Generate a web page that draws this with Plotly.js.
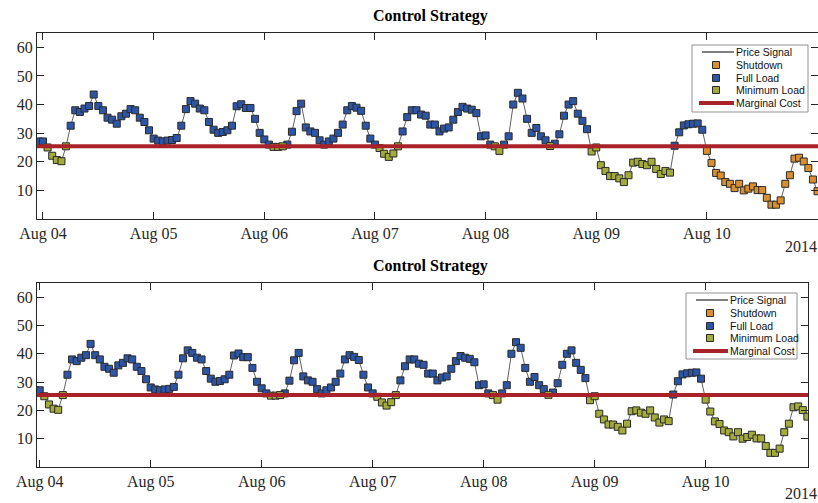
<!DOCTYPE html>
<html><head><meta charset="utf-8">
<script src="https://cdn.plot.ly/plotly-3.0.1.min.js"></script>
<style>html,body{margin:0;padding:0;background:#fff}#chart{width:818px;height:503px}</style>
</head><body><div id="chart"></div>
<script>
// ---- data ----
const startTime = '2014-08-03T23:00:00Z'; // hourly samples
const price = [
 27.1, 27.1, 25.0, 22.1, 20.6, 20.2, 25.4, 32.6, 38.0, 37.4, 38.6, 39.5, 43.5, 39.5, 38.0, 35.4, 34.7, 33.3, 35.9, 36.8,
 38.4, 38.0, 35.4, 33.9, 31.0, 28.1, 27.4, 27.1, 27.4, 27.6, 28.3, 32.6, 38.4, 41.2, 40.3, 38.6, 38.0, 33.9, 31.2, 30.1,
 30.4, 31.0, 32.6, 39.4, 40.1, 38.8, 38.8, 35.0, 30.1, 27.8, 26.0, 25.2, 25.2, 25.4, 26.0, 30.5, 37.7, 40.3, 32.0, 30.6,
 30.1, 27.5, 26.0, 27.1, 28.1, 30.1, 33.0, 38.0, 39.5, 38.9, 37.8, 32.6, 28.1, 26.0, 24.8, 22.8, 21.7, 22.9, 25.4, 30.6,
 35.6, 38.0, 38.0, 36.5, 36.1, 33.0, 33.0, 30.6, 31.6, 32.0, 34.7, 37.4, 39.2, 38.6, 38.2, 37.0, 28.9, 29.2, 26.0, 25.4,
 23.8, 26.0, 28.9, 40.0, 44.1, 42.1, 35.0, 30.1, 31.8, 28.9, 27.5, 25.5, 26.3, 29.6, 36.1, 40.0, 41.2, 36.8, 34.3, 31.4,
 23.6, 25.0, 18.8, 16.8, 15.0, 15.0, 14.2, 12.9, 15.3, 19.7, 20.0, 19.2, 18.8, 20.0, 17.5, 15.7, 16.8, 16.2, 25.6, 30.3,
 32.7, 33.1, 33.3, 33.4, 31.2, 23.8, 19.6, 16.1, 15.2, 12.9, 12.3, 10.8, 12.3, 10.0, 10.6, 11.4, 10.1, 10.1, 7.4, 5.0,
 5.0, 6.5, 12.3, 15.3, 21.1, 21.4, 20.1, 17.8, 13.8, 9.7
];
// operating state runs (state, number of hours)
const stateRunsTop = [['F',2],['M',5],['F',44],['M',3],['F',20],['M',5],['F',20],['M',2],['F',10],['M',1],['F',8],['M',18],['F',7],['S',25]];
const stateRunsBottom = [['F',2],['M',5],['F',44],['M',3],['F',20],['M',5],['F',20],['M',2],['F',10],['M',1],['F',8],['M',18],['F',7],['M',25]];
const marginalCost = 25.4;
const stateOrder = ['S','F','M'];
const stateNames = {S:'Shutdown', F:'Full Load', M:'Minimum Load'};
const stateColors = {S:'#D98E2F', F:'#2D55A6', M:'#A3AC3A'};
const dayTicks = ['2014-08-04','2014-08-05','2014-08-06','2014-08-07','2014-08-08','2014-08-09','2014-08-10'];
const yTicks = [10,20,30,40,50,60];
const rangeTop = ['2014-08-03 22:42','2014-08-11 00:06'];
const rangeBottom = ['2014-08-03 23:25','2014-08-10 22:08'];
const titleText = 'Control Strategy';
const yearText = '2014';

// ---- build ----
const t0 = Date.parse(startTime);
const times = price.map((_, i) => new Date(t0 + i * 3600000).toISOString().slice(0, 16).replace('T', ' '));
function expand(runs){ const o=[]; runs.forEach(([s,n])=>{ for(let k=0;k<n;k++) o.push(s); }); return o; }

const W = 818, H = 503, ML = 37, MR = 0, MT = 33, MB = 36;
const PW = W - ML - MR, PH = H - MT - MB;
const px = x => (x - ML) / PW;
const py = y => (H - MB - y) / PH;

const INK = '#262626';
const traces = [];
function addSubplot(xa, ya, runs){
  const st = expand(runs);
  traces.push({type:'scatter', mode:'lines', x:times, y:price, xaxis:xa, yaxis:ya,
    line:{color:'#3a3a3a', width:0.8}, showlegend:false, hoverinfo:'skip'});
  stateOrder.forEach(s => {
    const xs=[], ys=[];
    st.forEach((v,i)=>{ if(v===s){ xs.push(times[i]); ys.push(price[i]); } });
    traces.push({type:'scatter', mode:'markers', x:xs, y:ys, xaxis:xa, yaxis:ya, name:stateNames[s],
      marker:{symbol:'square', size:7, color:stateColors[s], line:{color:'#2a2a2a', width:1}}, showlegend:false});
  });
  traces.push({type:'scatter', mode:'lines', x:['2014-08-03 20:00','2014-08-11 04:00'], y:[marginalCost, marginalCost],
    xaxis:xa, yaxis:ya, line:{color:'#A92229', width:4}, showlegend:false, hoverinfo:'skip'});
}
addSubplot('x','y',stateRunsTop);
addSubplot('x2','y2',stateRunsBottom);

const xBase = {type:'date', tickformat:'%b %d', tickvals:dayTicks, ticks:'inside', ticklen:7, tickcolor:INK,
  showline:true, linecolor:INK, linewidth:1, mirror:'ticks', showgrid:false, zeroline:false,
  tickfont:{family:'Liberation Serif', size:16, color:INK}};
const yBase = {range:[0,65], tickvals:yTicks, ticks:'inside', ticklen:7, tickcolor:INK,
  showline:true, linecolor:INK, linewidth:1, mirror:'ticks', showgrid:false, zeroline:false,
  tickfont:{family:'Liberation Serif', size:16, color:INK}};

const shapes = [], annotations = [];
function legendBox(b){
  shapes.push({type:'rect', xref:'paper', yref:'paper', x0:px(b.x0), x1:px(b.x1), y0:py(b.y0), y1:py(b.y1),
    line:{color:'#777', width:0.8}, fillcolor:'#fff', layer:'above'});
  const rows = [7, 20, 33, 45, 58];
  const labels = ['Price Signal', stateNames.S, stateNames.F, stateNames.M, 'Marginal Cost'];
  shapes.push({type:'line', xref:'paper', yref:'paper', x0:px(b.x0+10), x1:px(b.x0+42), y0:py(b.y0+rows[0]), y1:py(b.y0+rows[0]),
    line:{color:'#000', width:1}, layer:'above'});
  ['S','F','M'].forEach((s,k)=>{
    const cy = b.y0 + rows[k+1], cx = b.x0 + 24;
    shapes.push({type:'rect', xref:'paper', yref:'paper', x0:px(cx-3.5), x1:px(cx+3.5), y0:py(cy+3.5), y1:py(cy-3.5),
      fillcolor:stateColors[s], line:{color:'#2a2a2a', width:1}, layer:'above'});
  });
  shapes.push({type:'line', xref:'paper', yref:'paper', x0:px(b.x0+7), x1:px(b.x0+42), y0:py(b.y0+rows[4]), y1:py(b.y0+rows[4]),
    line:{color:'#A92229', width:4}, layer:'above'});
  labels.forEach((t,k)=>{
    annotations.push({xref:'paper', yref:'paper', x:px(b.x0+43), y:py(b.y0+rows[k]), xanchor:'left', yanchor:'middle',
      text:t, showarrow:false, font:{family:'Liberation Sans', size:10.5, color:'#111'}, borderpad:0});
  });
}
legendBox({x0:692, y0:45, x1:808, y1:112});
legendBox({x0:686, y0:293, x1:797, y1:359});

[[430,16],[430,266]].forEach(([x,y])=>annotations.push({xref:'paper', yref:'paper', x:px(x), y:py(y), xanchor:'center', yanchor:'middle',
  text:'<b>'+titleText+'</b>', showarrow:false, font:{family:'Liberation Serif', size:16, color:'#000'}}));
[[818,246],[818,493]].forEach(([x,y])=>annotations.push({xref:'paper', yref:'paper', x:px(x), y:py(y), xanchor:'right', yanchor:'middle',
  text:yearText, showarrow:false, font:{family:'Liberation Serif', size:16, color:INK}, borderpad:0}));

const layout = {
  width:W, height:H, margin:{l:ML, r:MR, t:MT, b:MB}, paper_bgcolor:'#fff', plot_bgcolor:'#fff', showlegend:false,
  xaxis:Object.assign({}, xBase, {domain:[0,1], anchor:'y', range:rangeTop}),
  yaxis:Object.assign({}, yBase, {domain:[py(219),1], anchor:'x'}),
  xaxis2:Object.assign({}, xBase, {domain:[0,px(808)], anchor:'y2', range:rangeBottom}),
  yaxis2:Object.assign({}, yBase, {domain:[0,py(283)], anchor:'x2'}),
  shapes, annotations
};
Plotly.newPlot('chart', traces, layout, {staticPlot:true, displayModeBar:false});
</script></body></html>
